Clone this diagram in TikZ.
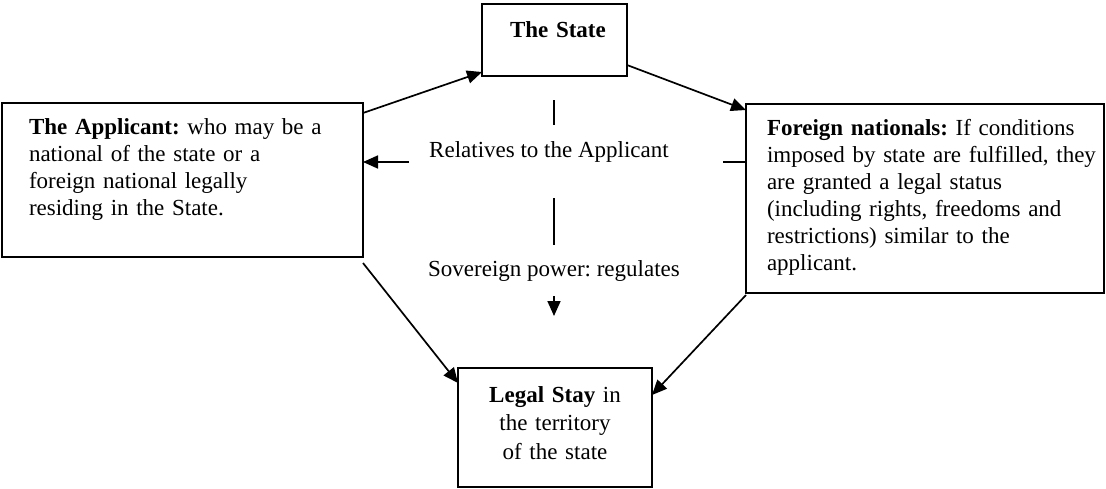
\documentclass[tikz,border=0pt]{standalone}
\usepackage{fontspec}
\setmainfont{Liberation Serif}
\usetikzlibrary{arrows.meta}
\tikzset{
  box/.style={draw, line width=1.8pt, inner ysep=0pt, outer sep=0pt, anchor=north west, align=left},
  conn/.style={line width=1.7pt, -{Triangle[length=15pt, width=13pt]}},
}
\frenchspacing
\begin{document}
\begin{tikzpicture}[x=1pt, y=-1pt, line join=miter, font=\fontsize{23}{27}\selectfont]
  \useasboundingbox (0,0) rectangle (1106,488);

  % Boxes
  \node[box, text width=307pt, inner xsep=27pt, text height=31pt, text depth=123pt] (applicant) at (2,103)
    {\textbf{The Applicant:} who may be a\\ national of the state or a\\ foreign national legally\\ residing in the State.};
  \node[box, text width=89pt, inner xsep=28pt, text height=33pt, text depth=39pt] (state) at (482,4)
    {\mbox{\textbf{The State}}};
  \node[box, text width=316pt, inner xsep=21pt, text height=31pt, text depth=158pt] (foreign) at (746,104)
    {\textbf{Foreign nationals:} If conditions\\ \mbox{imposed by state are fulfilled, they}\\ are granted a legal status\\ (including rights, freedoms and\\ restrictions) similar to the\\ applicant.};
  \node[box, align=center, text width=174pt, inner xsep=10pt, text height=34pt, text depth=85pt,
        font=\fontsize{23}{28.5}\selectfont] (legal) at (458,368)
    {\textbf{Legal Stay} in\\ the territory\\ of the state};

  % Middle labels
  \node[anchor=base, inner sep=0pt] (relatives) at (549,157) {Relatives to the Applicant};
  \node[anchor=base, inner sep=0pt] (sovereign) at (554,276) {Sovereign power: regulates};

  % Key coordinates
  \coordinate (RL) at (409,162); % left end of relatives line
  \coordinate (RR) at (723,162); % right end of relatives line
  \coordinate (V1) at (554,100); \coordinate (V2) at (554,125); % upper bar
  \coordinate (V3) at (554,198); \coordinate (V4) at (554,245); % lower bar
  \coordinate (V5) at (554,296); \coordinate (V6) at (554,316); % short arrow

  % Arrows between boxes
  \draw[conn] ([yshift=-10pt]applicant.north east) -- ([yshift=4pt]state.south west);
  \draw[conn] ([yshift=11pt]state.south east) -- ([yshift=-6pt]foreign.north west);
  \draw[conn] ([yshift=-6pt]applicant.south east) -- ([yshift=-15pt]legal.north west);
  \draw[conn] ([yshift=-2pt]foreign.south west) -- ([yshift=-27pt]legal.north east);

  % Relatives line
  \draw[conn] (RL) -- (RL -| applicant.east);
  \draw[line width=1.7pt] (RR) -- (RR -| foreign.west);

  % Vertical line
  \draw[line width=1.7pt] (V1) -- (V2);
  \draw[line width=1.7pt] (V3) -- (V4);
  \draw[conn] (V5) -- (V6);
\end{tikzpicture}
\end{document}
